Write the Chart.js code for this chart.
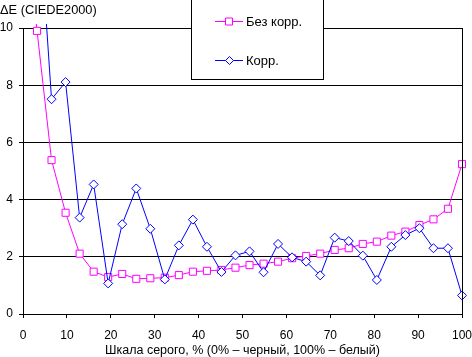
<!DOCTYPE html>
<html>
<head>
<meta charset="utf-8">
<script src="https://cdn.jsdelivr.net/npm/chart.js@4"></script>
<style>
  html, body { margin: 0; padding: 0; background: #fff; }
  #wrap { width: 472px; height: 357px; position: relative; }
</style>
</head>
<body>
<div id="wrap"><canvas id="c"></canvas></div>
<script>
// Grey level, % (0% black, 100% white)
const greyPct = [0, 3.2, 6.5, 9.7, 12.9, 16.1, 19.4, 22.6, 25.8, 29.0, 32.3, 35.5, 38.7, 41.9, 45.2, 48.4,
                 51.6, 54.8, 58.1, 61.3, 64.5, 67.7, 71.0, 74.2, 77.4, 80.6, 83.9, 87.1, 90.3, 93.5, 96.8, 100];
// ΔE without correction
const deNoCorr = [14.7, 9.9, 5.38, 3.54, 2.11, 1.48, 1.29, 1.40, 1.23, 1.25, 1.27, 1.36, 1.48, 1.51, 1.54, 1.62,
                  1.71, 1.76, 1.83, 1.95, 2.03, 2.11, 2.24, 2.30, 2.45, 2.53, 2.74, 2.88, 3.11, 3.31, 3.68, 5.24];
// ΔE with correction
const deCorr = [null, 15.0, 7.51, 8.11, 3.37, 4.53, 1.07, 3.14, 4.39, 2.98, 1.21, 2.40, 3.30, 2.35, 1.47, 2.05,
                2.19, 1.46, 2.45, 1.98, 1.83, 1.35, 2.67, 2.55, 2.04, 1.19, 2.35, 2.76, 3.00, 2.30, 2.30, 0.65];
const seriesNames = ['Без корр.', 'Корр.'];
const xTicks = [0, 10, 20, 30, 40, 50, 60, 70, 80, 90, 100];
const yTicks = [0, 2, 4, 6, 8, 10];
const yTitle = 'ΔE (CIEDE2000)';
const xTitle = 'Шкала серого, % (0% – черный, 100% – белый)';

const FONT = 'Liberation Sans, Arial, sans-serif';
const PINK = '#FF00FF', BLUE = '#0000FF';

function pts(vals) { return greyPct.map((x, i) => ({ x: x, y: vals[i] })); }

const extras = {
  id: 'extras',
  afterDraw(chart) {
    const ctx = chart.ctx, a = chart.chartArea;
    ctx.save();
    // right border of plot
    ctx.strokeStyle = '#000'; ctx.lineWidth = 1;
    ctx.beginPath();
    ctx.moveTo(Math.round(a.right) + 0.5, Math.round(a.top));
    ctx.lineTo(Math.round(a.right) + 0.5, Math.round(a.bottom) + 1);
    ctx.stroke();
    // y title
    ctx.fillStyle = '#000';
    ctx.font = '12.8px ' + FONT;
    ctx.textBaseline = 'middle';
    ctx.textAlign = 'left';
    ctx.fillText(yTitle, 0, 10);
    // legend box
    const bx = 191.5, by = -0.5, bw = 132, bh = 80;
    ctx.fillStyle = '#fff';
    ctx.fillRect(bx, by, bw, bh);
    ctx.strokeStyle = '#000';
    ctx.strokeRect(bx, by, bw, bh);
    const items = [{ name: seriesNames[0], color: PINK, y: 21.5, shape: 'sq' },
                   { name: seriesNames[1], color: BLUE, y: 60.5, shape: 'dm' }];
    items.forEach(it => {
      ctx.strokeStyle = it.color; ctx.lineWidth = 1;
      ctx.beginPath(); ctx.moveTo(215, it.y); ctx.lineTo(243, it.y); ctx.stroke();
      ctx.fillStyle = '#fff';
      ctx.beginPath();
      if (it.shape === 'sq') {
        ctx.rect(225.5, it.y - 3.5, 7, 7);
      } else {
        ctx.moveTo(229.5, it.y - 4); ctx.lineTo(233.5, it.y); ctx.lineTo(229.5, it.y + 4); ctx.lineTo(225.5, it.y); ctx.closePath();
      }
      ctx.fill(); ctx.stroke();
      ctx.fillStyle = '#000';
      ctx.font = '13px ' + FONT;
      ctx.textBaseline = 'middle';
      ctx.fillText(it.name, 246, it.y + 0.5);
    });
    ctx.restore();
  }
};

new Chart(document.getElementById('c'), {
  type: 'scatter',
  data: {
    datasets: [
      { label: seriesNames[0], data: pts(deNoCorr), showLine: true, borderColor: PINK, borderWidth: 1,
        pointStyle: 'rect', pointRadius: 5, pointBorderColor: PINK, pointBackgroundColor: '#fff',
        pointBorderWidth: 1, clip: { left: 0, top: 4, right: 6, bottom: 4 }, order: 2 },
      { label: seriesNames[1], data: pts(deCorr), showLine: true, borderColor: BLUE, borderWidth: 1,
        pointStyle: 'rectRot', pointRadius: 4.5, pointBorderColor: BLUE, pointBackgroundColor: '#fff',
        pointBorderWidth: 1, clip: { left: 0, top: 4, right: 6, bottom: 4 }, order: 1 }
    ]
  },
  options: {
    responsive: true,
    maintainAspectRatio: false,
    animation: false,
    events: [],
    layout: { padding: { top: 28, right: 10, left: 0, bottom: 0 } },
    plugins: { legend: { display: false }, tooltip: { enabled: false }, title: { display: false } },
    scales: {
      x: {
        type: 'linear', min: 0, max: 100,
        afterBuildTicks: s => { s.ticks = xTicks.map(v => ({ value: v })); },
        afterFit: s => { s.height = 43; s.paddingRight = 0; s.paddingLeft = 0; },
        grid: { drawOnChartArea: false, drawTicks: true, tickLength: 4, color: '#000', lineWidth: 1 },
        border: { display: true, color: '#000', width: 1 },
        ticks: { color: '#000', font: { family: FONT, size: 12 }, padding: 10, maxRotation: 0, autoSkip: false },
        title: { display: true, text: xTitle, color: '#000', font: { family: FONT, size: 12.5 }, padding: { top: 0, bottom: -1 } }
      },
      y: {
        type: 'linear', min: 0, max: 10,
        afterBuildTicks: s => { s.ticks = yTicks.map(v => ({ value: v })); },
        afterFit: s => { s.width = 23; s.paddingTop = 0; s.paddingBottom = 0; },
        grid: { drawOnChartArea: true, drawTicks: true, tickLength: 4, color: '#000', lineWidth: 1 },
        border: { display: true, color: '#000', width: 1 },
        ticks: { color: '#000', font: { family: FONT, size: 12 }, padding: 6 }
      }
    }
  },
  plugins: [extras]
});
</script>
</body>
</html>
